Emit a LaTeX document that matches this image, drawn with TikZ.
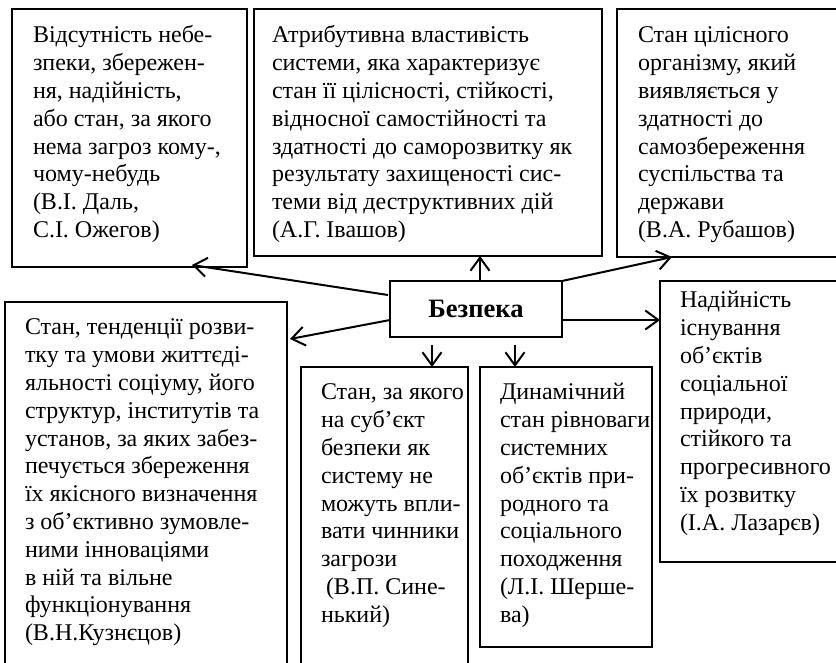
\documentclass[tikz,border=0pt]{standalone}
\usepackage{fontspec}
\setmainfont{Liberation Serif}
\usetikzlibrary{arrows.meta,calc}

\tikzset{
  frame/.style={draw=black, line width=1.3pt, inner sep=0pt, outer sep=0pt},
  txt/.style={anchor=north west, align=left, inner sep=0pt, outer sep=0pt,
    font=\fontsize{24}{27.8}\selectfont},
  arr/.style={line width=2pt, -{Straight Barb[length=13pt,width=19pt,line width=2pt]}},
}

% box from corner (x1,y1) to corner (x2,y2), y measured downwards
\newcommand{\defbox}[5]{%
  \node[frame, minimum width=#4-#2, minimum height=#5-#3] (#1) at ({(#2+#4)/2},{(#3+#5)/2}) {};}

\begin{document}
\begin{tikzpicture}[x=1pt,y=-1pt]
\useasboundingbox (0,0) rectangle (836,662);
\clip (0,0) rectangle (836,662);

% outer boxes
\defbox{b1}{12}{9}{247}{267}
\defbox{b2}{254}{9}{602}{256}
\defbox{b3}{617}{9}{850}{257}
\defbox{b4}{5}{302}{287}{680}
\defbox{b5}{301}{367}{468}{680}
\defbox{b6}{480}{367}{652}{647}
\defbox{b7}{660}{281}{850}{562}

% central term
\node[frame, minimum width=172, minimum height=56,
  font=\fontsize{26.5}{28}\selectfont\bfseries] (bez) at (476,309) {Безпека};

% definitions (node top = first baseline - 0.7 baselineskip)
\node[txt] (t1) at (33,23.5) {\strut Відсутність небе-\\зпеки, збережен-\\ня, надійність,\\або стан, за якого\\нема загроз кому-,\\чому-небудь\\(В.І. Даль,\\С.І. Ожегов)};
\node[txt] (t2) at (272,23.5) {\strut Атрибутивна властивість\\системи, яка характеризує\\стан її цілісності, стійкості,\\відносної самостійності та\\здатності до саморозвитку як\\результату захищеності сис-\\теми від деструктивних дій\\(А.Г. Івашов)};
\node[txt] (t3) at (638,23.5) {\strut Стан цілісного\\організму, який\\виявляється у\\здатності до\\самозбереження\\суспільства та\\держави\\(В.А. Рубашов)};
\node[txt] (t4) at (25,315.5) {\strut Стан, тенденції розви-\\тку та умови життєді-\\яльності соціуму, його\\структур, інститутів та\\установ, за яких забез-\\печується збереження\\їх якісного визначення\\з об’єктивно зумовле-\\ними інноваціями\\в ній та вільне\\функціонування\\(В.Н.Кузнєцов)};
\node[txt] (t5) at (321,380.5) {\strut Стан, за якого\\на суб’єкт\\безпеки як\\систему не\\можуть впли-\\вати чинники\\загрози\\\hspace*{5pt}(В.П. Сине-\\нький)};
\node[txt] (t6) at (500,380.5) {\strut Динамічний\\стан рівноваги\\системних\\об’єктів при-\\родного та\\соціального\\походження\\(Л.І. Шерше-\\ва)};
\node[txt] (t7) at (680,288.5) {\strut Надійність\\існування\\об’єктів\\соціальної\\природи,\\стійкого та\\прогресивного\\їх розвитку\\(І.А. Лазарєв)};

% connectors from the central term
\draw[arr] ($(bez.north west)+(-2,14)$) -- ($(b1.south west)+(180,-2)$);
\draw[arr] (bez.north) ++(4,0) coordinate (up) -- (up |- b2.south);
\draw[arr] (bez.north east) -- ($(b3.south west)+(55,0)$);
\draw[arr] ($(bez.south east)+(0,-17)$) coordinate (r) -- (r -| b7.west);
\draw[arr] ($(bez.south west)+(0,-17)$) -- ($(b4.north east)+(3,37)$);
\draw[arr] ($(bez.south west)+(42,8)$) coordinate (d1) -- (d1 |- b5.north);
\draw[arr] ($(bez.south west)+(125,8)$) coordinate (d2) -- (d2 |- b6.north);
\end{tikzpicture}
\end{document}
